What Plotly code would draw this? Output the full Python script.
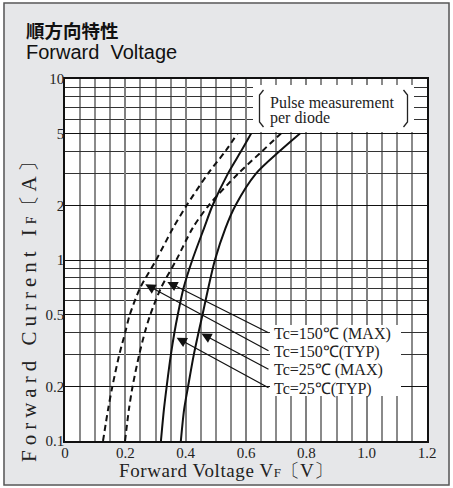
import numpy as np
import plotly.graph_objects as go

# ---- data ----
i_pts = [0.1, 0.15, 0.2, 0.3, 0.4, 0.5, 0.7, 1, 1.5, 2, 3, 4, 5]
vf_150_typ = [0.126, 0.143, 0.157, 0.180, 0.200, 0.215, 0.249, 0.302, 0.358, 0.403, 0.474, 0.532, 0.572]
vf_150_max = [0.199, 0.212, 0.224, 0.246, 0.265, 0.283, 0.318, 0.369, 0.423, 0.476, 0.574, 0.654, 0.716]
vf_25_typ = [0.318, 0.328, 0.337, 0.351, 0.363, 0.374, 0.393, 0.422, 0.461, 0.489, 0.540, 0.584, 0.617]
vf_25_max = [0.384, 0.395, 0.408, 0.427, 0.443, 0.456, 0.475, 0.497, 0.532, 0.565, 0.633, 0.712, 0.779]

series_names = ["Tc=150℃ (MAX)", "Tc=150℃(TYP)", "Tc=25℃ (MAX)", "Tc=25℃(TYP)"]
series_vals = [vf_150_max, vf_150_typ, vf_25_max, vf_25_typ]
series_dash = ["6px,4px", "6px,4px", "solid", "solid"]
arrow_currents = [0.757, 0.734, 0.393, 0.372]   # where each leader arrow touches its curve

x_tickvals = [0, 0.2, 0.4, 0.6, 0.8, 1.0, 1.2]
x_ticktext = ["0", "0.2", "0.4", "0.6", "0.8", "1.0", "1.2"]
y_tickvals = [0.1, 0.2, 0.5, 1, 2, 5, 10]
y_ticktext = ["0.1", "0.2", "0.5", "1", "2", "5", "10"]
y_minor = [0.3, 0.4, 0.6, 0.7, 0.8, 0.9, 3, 4, 6, 7, 8, 9]

W, H = 453, 488
ML, MR, MT, MB = 65, 26, 79, 47
PW, PH = W - ML - MR, H - MT - MB


def xp(px):
    return (px - ML) / PW


def yp(py):
    return (H - MB - py) / PH


SERIF = "Liberation Serif, Times New Roman, serif"
fig = go.Figure()

for name, vals, dash in zip(series_names, series_vals, series_dash):
    fig.add_trace(go.Scatter(x=vals, y=i_pts, mode="lines", name=name,
                             line=dict(color="#111", width=2, dash=dash,
                                       shape="spline", smoothing=0.8),
                             showlegend=False, hoverinfo="skip"))

shapes = []
# outer frame
shapes.append(dict(type="rect", xref="paper", yref="paper",
                   x0=xp(0), x1=xp(W), y0=yp(H), y1=yp(0),
                   line=dict(color="white", width=7), fillcolor="rgba(0,0,0,0)", layer="above"))
shapes.append(dict(type="rect", xref="paper", yref="paper",
                   x0=xp(4), x1=xp(449), y0=yp(485), y1=yp(3),
                   line=dict(color="#555", width=1.5), fillcolor="rgba(0,0,0,0)", layer="above"))
# white boxes masking the grid
shapes.append(dict(type="rect", xref="paper", yref="paper",
                   x0=xp(253), x1=xp(414), y0=yp(132), y1=yp(85),
                   line=dict(width=0), fillcolor="white", layer="above"))
shapes.append(dict(type="rect", xref="paper", yref="paper",
                   x0=xp(270), x1=xp(401), y0=yp(396), y1=yp(325),
                   line=dict(width=0), fillcolor="white", layer="above"))
# tortoise-shell brackets around the note
lb = "M {} {} L {} {} L {} {} L {} {}".format(xp(263.5), yp(90), xp(259.5), yp(95),
                                             xp(259.5), yp(122), xp(263.5), yp(127))
rb = "M {} {} L {} {} L {} {} L {} {}".format(xp(403.5), yp(90), xp(407.5), yp(95),
                                             xp(407.5), yp(122), xp(403.5), yp(127))
for p in (lb, rb):
    shapes.append(dict(type="path", xref="paper", yref="paper", path=p,
                       line=dict(color="#222", width=1.3), layer="above"))

annotations = []
annotations.append(dict(text="順方向特性", xref="paper", yref="paper", x=xp(24), y=yp(30),
                        xanchor="left", yanchor="middle", showarrow=False,
                        font=dict(family="Noto Sans CJK JP", size=18.5, color="#111", weight="bold")))
annotations.append(dict(text="Forward  Voltage", xref="paper", yref="paper", x=xp(24), y=yp(52),
                        xanchor="left", yanchor="middle", showarrow=False,
                        font=dict(family="Liberation Sans, Arial", size=20, color="#111")))
annotations.append(dict(text="Pulse measurement", xref="paper", yref="paper",
                        x=xp(268), y=yp(102), xanchor="left", yanchor="middle",
                        showarrow=False, font=dict(family=SERIF, size=16, color="#222")))
annotations.append(dict(text="per diode", xref="paper", yref="paper",
                        x=xp(268), y=yp(118), xanchor="left", yanchor="middle",
                        showarrow=False, font=dict(family=SERIF, size=16, color="#222")))
annotations.append(dict(text='<span style="letter-spacing:0.6px">Forward Voltage V</span>'
                             '<span style="font-size:13px">F</span>〔V〕',
                        xref="paper", yref="paper", x=xp(226), y=yp(470),
                        xanchor="center", yanchor="middle", showarrow=False,
                        font=dict(family=SERIF, size=19, color="#222")))
annotations.append(dict(text='<span style="letter-spacing:5px">Forward Current I</span>'
                             '<span style="font-size:14px">F</span>'
                             '<span style="letter-spacing:4px">〔A〕</span>',
                        xref="paper", yref="paper", x=xp(29), y=yp(305),
                        xanchor="center", yanchor="middle", textangle=-90, showarrow=False,
                        font=dict(family=SERIF, size=21, color="#222")))

label_py = [333.5, 351.5, 370, 388.5]
label_x = (270 - ML) / PW * 1.2
for name, vals, cur, lpy in zip(series_names, series_vals, arrow_currents, label_py):
    ly = (H - MB - lpy) / PH * 2 - 1  # log10 position of label
    annotations.append(dict(text=name, x=label_x + 0.008, y=ly, xref="x", yref="y",
                            xanchor="left", yanchor="middle", showarrow=False,
                            font=dict(family=SERIF, size=16, color="#222")))
    tipx = float(np.interp(np.log10(cur), np.log10(i_pts), vals)) + 0.01
    annotations.append(dict(text="", x=tipx, y=np.log10(cur), xref="x", yref="y",
                            ax=label_x, ay=ly, axref="x", ayref="y",
                            showarrow=True, arrowhead=2, arrowsize=1.7, arrowwidth=1.2,
                            arrowcolor="#111", standoff=0))

fig.update_layout(
    width=W, height=H,
    margin=dict(l=ML, r=MR, t=MT, b=MB, pad=0),
    paper_bgcolor="#e6e7e9", plot_bgcolor="white",
    shapes=shapes, annotations=annotations,
    xaxis=dict(range=[0, 1.2], tickvals=x_tickvals, ticktext=x_ticktext,
               showgrid=True, gridcolor="#808080", gridwidth=1.6,
               minor=dict(dtick=0.05, tick0=0, showgrid=True, gridcolor="#8a8a8a", gridwidth=1.6),
               showline=True, linecolor="#111", linewidth=1.5, mirror=True,
               ticks="", zeroline=False, ticklabelstandoff=-3,
               tickfont=dict(family=SERIF, size=15, color="#222")),
    yaxis=dict(type="log", range=[-1, 1], tickvals=y_tickvals, ticktext=y_ticktext,
               showgrid=True, gridcolor="#111", gridwidth=1.3,
               minor=dict(tickmode="array", tickvals=y_minor, showgrid=True,
                          gridcolor="#333", gridwidth=1.2, ticks=""),
               showline=True, linecolor="#111", linewidth=1.5, mirror=True,
               ticks="", zeroline=False, ticklabelstandoff=-4,
               tickfont=dict(family=SERIF, size=15, color="#222")),
)

fig.write_html("out.html", post_script="document.body.style.margin='0';",
               config={"displayModeBar": False})
